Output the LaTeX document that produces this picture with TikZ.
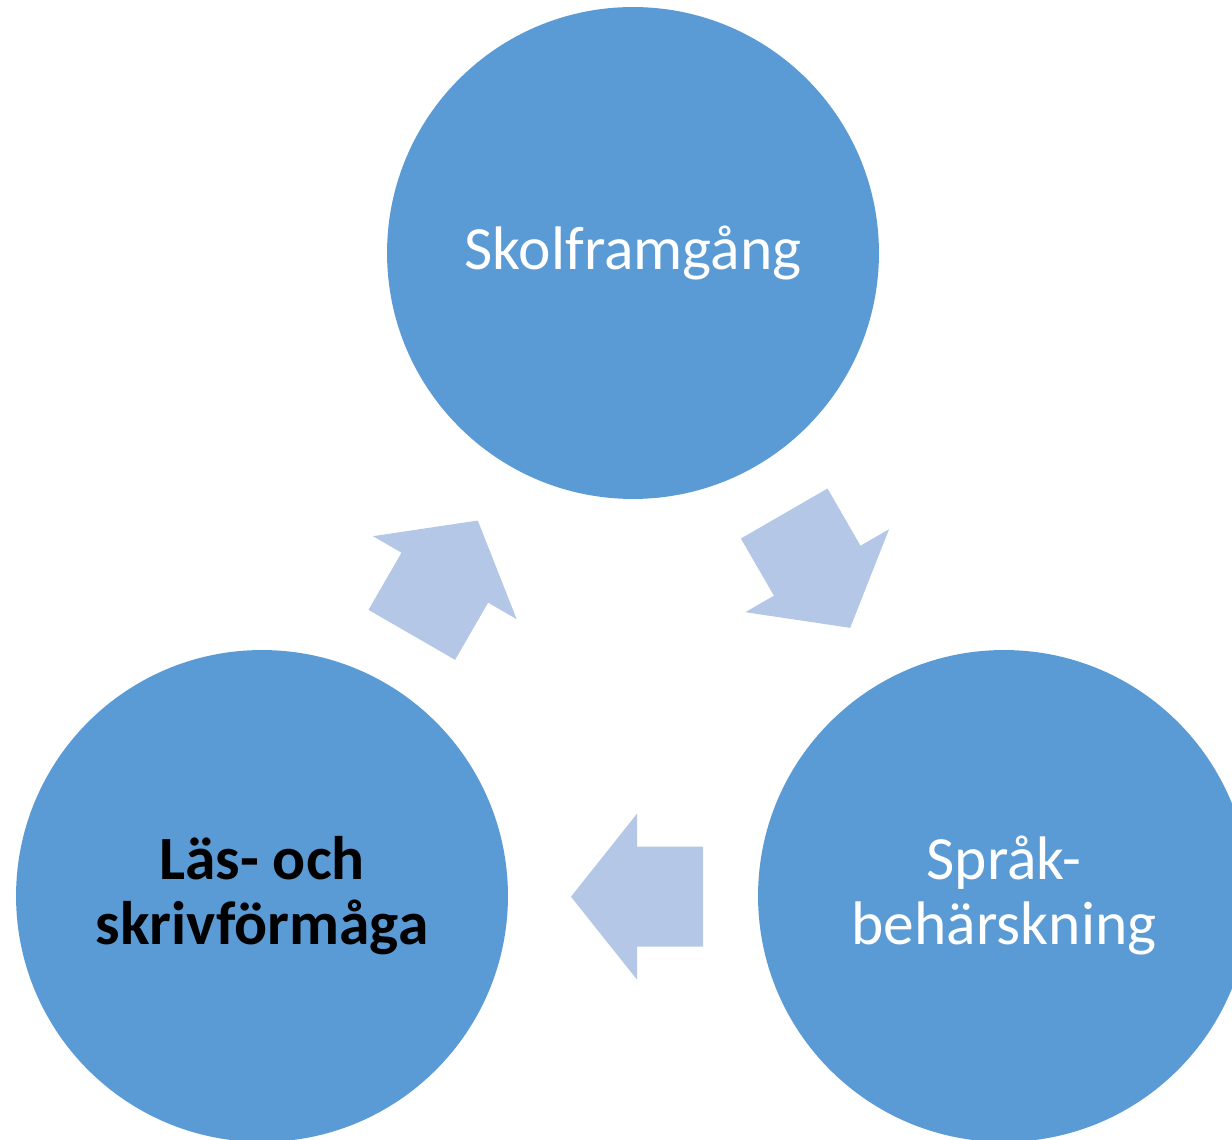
\documentclass[tikz,border=0pt]{standalone}
\usepackage{fontspec}
\setmainfont{Carlito}
\definecolor{bubbleblue}{HTML}{5B9BD5}
\definecolor{arrowblue}{HTML}{B4C7E7}
\tikzset{
  bubble/.style={circle,fill=bubbleblue,minimum size=9.84cm,inner sep=0pt,align=center,
    font=\fontsize{35}{37}\selectfont,text=white},
  blockarrow/.style={fill=arrowblue}
}

\begin{document}
\begin{tikzpicture}[line join=miter,x=0.02cm,y=0.02cm]
	\useasboundingbox (0,0) rectangle (1232,1140);
	\clip (0,0) rectangle (1232,1140);
	% the three circles
	\node[bubble] (skol) at (633,887) {Skolframg\aa ng};
	\node[bubble,text=black,font=\fontsize{35}{37}\selectfont\bfseries] (las) at (262,244) {L\"as- och\\skrivf\"orm\aa ga};
	\node[bubble] (sprak) at (1004,244) {Spr\aa k-\\beh\"arskning};
	% block arrows between them
	\fill[blockarrow,shift={(637,243.3)},rotate=0] (-66,0) -- (0,83) -- (0,50) -- (66,50) -- (66,-50) -- (0,-50) -- (0,-83) -- cycle;
	\fill[blockarrow,shift={(444.8,562.3)},rotate=-120] (-66,0) -- (0,83) -- (0,50) -- (66,50) -- (66,-50) -- (0,-50) -- (0,-83) -- cycle;
	\fill[blockarrow,shift={(817.2,569.3)},rotate=120] (-66,0) -- (0,83) -- (0,50) -- (66,50) -- (66,-50) -- (0,-50) -- (0,-83) -- cycle;
\end{tikzpicture}
\end{document}
